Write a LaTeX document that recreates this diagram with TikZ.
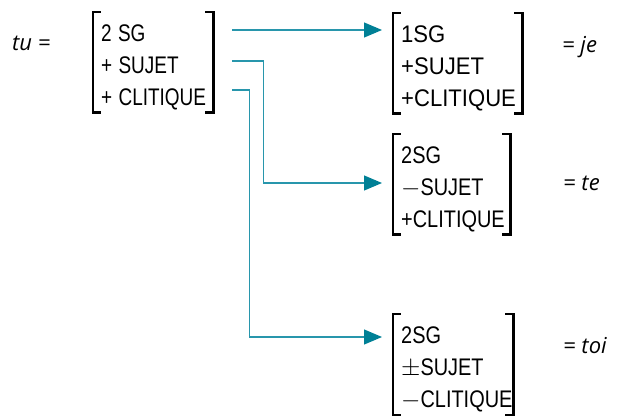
\documentclass[tikz,border=0pt]{standalone}
\usepackage{fontspec}
\setmainfont{Liberation Sans}
\newfontfamily\glossfont{Open Sans}
\usetikzlibrary{arrows.meta,positioning}

\definecolor{linkteal}{RGB}{40,150,172}
\definecolor{headteal}{RGB}{0,128,150}

% narrowed feature lines
\newcommand{\squeeze}[1]{\scalebox{0.79}[1]{#1}}
\newcommand{\narrow}[1]{\scalebox{0.83}[1]{#1}}
\newcommand{\slim}[1]{\scalebox{0.92}[1]{#1}}

% square brackets round a feature node
\newcommand{\featbrackets}[1]{%
  \draw[brack] ([xshift=7pt,yshift=7pt]#1.north west) -- ([yshift=7pt]#1.north west)
    -- ([yshift=4pt]#1.south west) -- ++(7,0);
  \draw[brack] ([xshift=-7pt,yshift=7pt]#1.north east) -- ([yshift=7pt]#1.north east)
    -- ([yshift=4pt]#1.south east) -- ++(-7,0);
}

\begin{document}
\begin{tikzpicture}[x=1pt,y=-1pt,
    feat/.style={anchor=north west, align=left, inner xsep=8pt, inner ysep=6pt,
      font=\fontsize{24}{32}\selectfont},
    brack/.style={line width=2.4pt, line cap=rect},
    gloss/.style={anchor=base west, inner sep=0pt,
      font=\glossfont\itshape\fontsize{22}{26}\selectfont},
    link/.style={draw=linkteal, line width=1.1pt,
      -{Triangle[length=18pt,width=15pt,color=headteal]}}]
  \useasboundingbox (0,0) rectangle (618,418);

  % feature matrices
  \node[feat, text width=104pt] (tubox) at (93,19)
    {\squeeze{2 SG}\\\squeeze{+ SUJET}\\\squeeze{+ CLITIQUE}};
  \node[feat, text width=113pt] (jebox) at (393,20)
    {\slim{1SG}\\\slim{+SUJET}\\\slim{+CLITIQUE}};
  \node[feat, text width=101pt] (tebox) at (393,141)
    {\narrow{2SG}\\$-$\narrow{SUJET}\\\narrow{+CLITIQUE}};
  \node[feat, text width=104pt] (toibox) at (393,321)
    {\narrow{2SG}\\$\pm$\narrow{SUJET}\\$-$\narrow{CLITIQUE}};
  \featbrackets{tubox}
  \featbrackets{jebox}
  \featbrackets{tebox}
  \featbrackets{toibox}

  % glosses
  \node[gloss] (tugloss) at (12,50) {tu =};
  \node[gloss] (jegloss) at (562,52) {= je};
  \node[gloss] (tegloss) at (563,190) {= te};
  \node[gloss] (toigloss) at (563,353) {= toi};

  % connectors
  \coordinate (tu1) at ([xshift=19pt,yshift=-11pt]tubox.north east);
  \coordinate (tu2) at ([xshift=19pt,yshift=-42pt]tubox.north east);
  \coordinate (tu3) at ([xshift=19pt,yshift=-71pt]tubox.north east);
  \coordinate (je-in) at ([xshift=-11pt,yshift=-10pt]jebox.north west);
  \coordinate (te-in) at ([xshift=-11pt,yshift=-42pt]tebox.north west);
  \coordinate (toi-in) at ([xshift=-11pt,yshift=-16pt]toibox.north west);
  \draw[link] (tu1) -- (je-in);
  \draw[link] (tu2) -- ++(31,0) |- (te-in);
  \draw[link] (tu3) -- ++(17,0) |- (toi-in);
\end{tikzpicture}
\end{document}
